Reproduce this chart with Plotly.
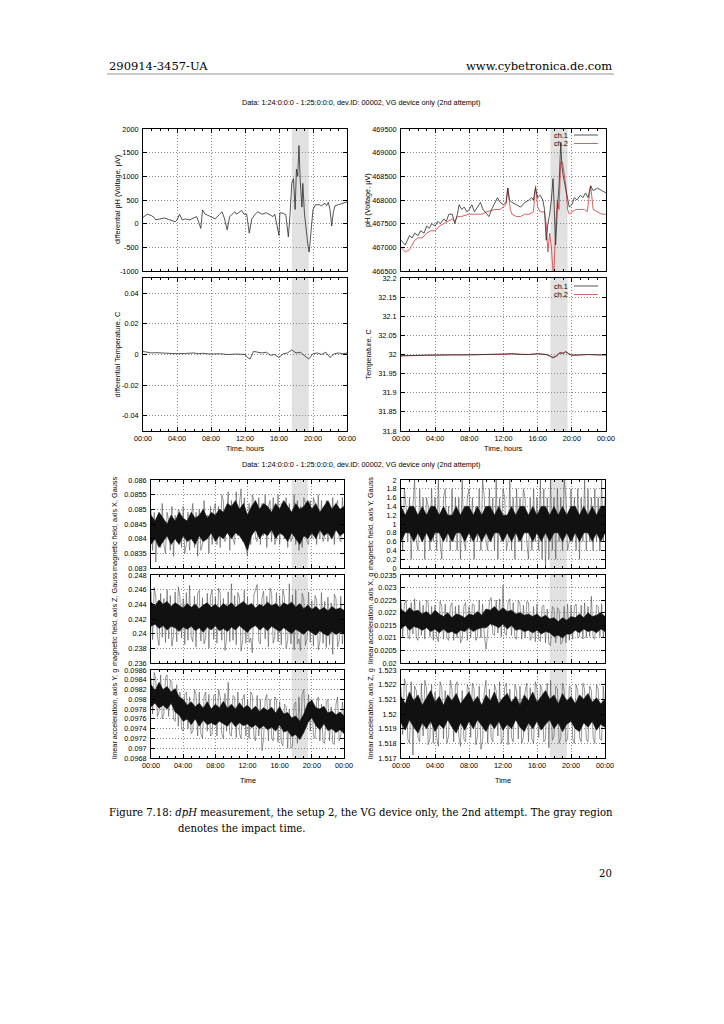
import plotly.graph_objects as go

# ---------------- data ----------------
hour_ticks = [0, 4, 8, 12, 16, 20, 24]
hour_labels = ["00:00", "04:00", "08:00", "12:00", "16:00", "20:00", "00:00"]
impact = [17.5, 19.5]

# differential pH
dph_t = [0,0.5,1.0,1.3,1.5,2.0,2.5,3.0,3.5,3.8,4.0,4.3,4.6,5.0,5.5,6.0,6.3,6.6,6.8,7.0,
         7.3,7.6,8.0,8.5,9.0,9.3,9.6,9.9,10.2,10.5,10.8,11.0,11.3,11.6,11.9,12.2,12.5,12.8,13.2,13.5,
         14.0,14.5,15.0,15.3,15.5,15.8,16.0,16.1,16.5,16.8,17.1,17.3,17.5,17.7,17.9,18.05,18.2,18.35,18.5,18.7,
         18.8,19.0,19.2,19.4,19.55,19.75,20.0,20.3,20.7,21.0,21.4,21.6,21.8,22.0,22.2,22.4,22.6,23.0,23.5,24.0]
dph_v = [130,200,170,130,80,100,120,90,50,40,80,200,80,100,80,120,150,10,-100,290,
         200,180,150,100,200,250,100,-130,150,200,250,200,250,280,200,200,-200,100,200,250,
         200,230,180,150,200,-50,-250,230,220,190,-280,200,850,950,300,1150,1000,1650,900,350,
         850,200,-200,-450,-600,-250,300,400,400,380,430,380,450,300,-50,250,380,400,430,460]

# pH channels
ph1_t = [0,0.3,0.5,1.0,1.3,1.6,2.0,2.3,2.7,3.0,3.3,3.6,4.0,4.3,4.6,5.0,5.3,5.6,6.0,6.3,
         6.6,6.8,7.1,7.4,7.7,8.0,8.3,8.6,9.0,9.3,9.6,10.0,10.3,10.6,11.0,11.3,11.6,12.0,12.3,12.5,
         12.7,13.0,13.5,14.0,14.5,15.0,15.3,15.5,15.75,16.0,16.3,16.6,16.8,17.0,17.2,17.4,17.6,17.8,17.95,18.1,
         18.3,18.5,18.7,18.85,19.0,19.2,19.5,19.7,20.0,20.3,20.6,21.0,21.3,21.6,21.9,22.2,22.5,23.0,23.5,24.0]
ph1_v = [467150,467100,467050,467250,467200,467300,467250,467350,467300,467450,467400,467500,467450,467550,467500,467600,467550,467700,467700,467500,
         467700,467900,467800,467850,467750,467800,467900,467750,467850,467950,467800,467700,467650,467800,467950,468050,467950,467900,467950,468250,
         468000,467950,467900,467850,467950,468000,468050,468000,468250,468050,468100,468000,467800,467150,467500,467700,468000,468450,467800,467050,
         467800,468300,469200,468700,468500,468300,468000,467850,467900,468050,468000,468100,468050,468150,468050,468300,468200,468250,468200,468150]
ph2_t = [0,0.5,1.0,1.3,1.6,2.0,2.5,3.0,3.5,4.0,4.5,5.0,5.5,6.0,6.3,6.6,7.0,8.0,9.0,9.5,
         10.0,11.0,11.6,12.0,12.3,12.5,12.8,13.0,13.5,14.0,14.5,15.0,15.5,15.75,16.0,16.3,16.8,17.0,17.2,17.4,
         17.6,17.8,17.9,18.1,18.3,18.5,18.7,18.9,19.1,19.3,19.5,19.7,20.0,20.5,21.0,21.5,21.8,22.2,22.5,23.0,
         23.5,24.0]
ph2_v = [467000,466900,466950,467050,467150,467200,467200,467300,467350,467350,467450,467500,467550,467600,467550,467650,467650,467700,467700,467700,
         467750,467800,467800,467850,467900,468250,467800,467700,467650,467650,467700,467700,467750,468300,467850,467750,467750,467500,466900,467300,
         467000,466500,466450,467400,468000,467800,468800,468800,468500,468300,467800,467700,467750,467800,467800,467800,467750,468300,467800,467750,
         467700,467700]

# differential temperature
dT_t = [0,0.5,1,1.5,2,3,4,5,6,6.5,7,8,9,10,11,12,12.3,12.6,13,13.5,
        14,14.5,15,15.5,16,16.5,17,17.5,18,18.5,19,19.5,20,20.5,21,21.5,22,22.5,23,23.5,24]
dT_v = [0.002,0.0015,0.001,0.0012,0.001,0.0005,0.0005,0.0007,0.001,0.0005,0.0008,0.0003,0.0005,0.0,0.0003,0.0,-0.002,-0.003,0.002,0.0015,
        0.001,0.0015,-0.0005,0.0,-0.002,0.0005,0.001,0.003,0.001,0.0015,-0.001,-0.003,0.0005,0.001,0.0,0.0015,-0.002,0.0005,0.001,0.0005,0.001]

# temperature channels
T_t = [0,2,4,6,8,10,12,13,14,15,16,16.5,17,17.5,17.8,18.2,18.6,19.0,19.3,19.6,20,21,22,23,24]
T1_v = [31.997,31.998,31.999,31.999,31.999,32.0,32.0,32.002,32.0,32.0,32.002,32.001,32.0,31.995,31.991,
        31.996,32.004,32.003,32.007,32.002,31.998,31.999,32.0,31.999,31.999]
T2_v = [31.996,31.998,31.999,31.999,32.0,32.0,32.0,32.002,32.001,32.0,32.002,32.001,32.0,31.996,31.993,
        31.997,32.005,32.004,32.008,32.003,31.998,31.999,32.0,31.999,31.999]

# ---- sensor series: outlier samples every 0.2 h (spk) and dense core band every 0.5 h (hi / lo)
magX_spk = [0.0850,0.0836,0.0849,0.0832,0.0847,0.0848,0.0837,0.0852,0.0838,0.0835,
            0.0849,0.0846,0.0836,0.0851,0.0834,0.0848,0.0839,0.0850,0.0849,0.0837,
            0.0851,0.0835,0.0838,0.0849,0.0836,0.0847,0.0852,0.0837,0.0849,0.0834,
            0.0850,0.0836,0.0838,0.0853,0.0840,0.0848,0.0835,0.0851,0.0838,0.0850,
            0.0852,0.0838,0.0851,0.0837,0.0855,0.0853,0.0839,0.0850,0.0856,0.0836,
            0.0853,0.0840,0.0838,0.0856,0.0841,0.0852,0.0857,0.0839,0.0854,0.0837,
            0.0834,0.0852,0.0838,0.0855,0.0853,0.0840,0.0839,0.0854,0.0838,0.0852,
            0.0841,0.0855,0.0837,0.0851,0.0853,0.0839,0.0854,0.0838,0.0840,0.0855,
            0.0838,0.0852,0.0851,0.0840,0.0854,0.0837,0.0852,0.0839,0.0841,0.0855,
            0.0838,0.0853,0.0836,0.0851,0.0837,0.0854,0.0852,0.0839,0.0838,0.0853,
            0.0840,0.0854,0.0852,0.0838,0.0855,0.0840,0.0853,0.0839,0.0841,0.0853,
            0.0839,0.0852,0.0840,0.0854,0.0838,0.0851,0.0853,0.0840,0.0839,0.0854,
            0.0846]
magX_hi = [0.0848,0.0846,0.0849,0.0847,0.0845,0.0848,0.0846,0.0849,0.0847,0.0846,
           0.0849,0.0847,0.0848,0.0850,0.0847,0.0849,0.0848,0.0850,0.0849,0.0852,
           0.0851,0.0853,0.0850,0.0852,0.0848,0.0851,0.0853,0.0850,0.0852,0.0851,
           0.0849,0.0852,0.0850,0.0853,0.0851,0.0849,0.0852,0.0850,0.0851,0.0853,
           0.0850,0.0852,0.0849,0.0851,0.0853,0.0850,0.0852,0.0850,0.0851]
magX_lo = [0.0838,0.0840,0.0837,0.0839,0.0841,0.0838,0.0840,0.0838,0.0841,0.0839,
           0.0840,0.0838,0.0841,0.0839,0.0840,0.0842,0.0839,0.0841,0.0840,0.0842,
           0.0840,0.0842,0.0841,0.0839,0.0836,0.0841,0.0843,0.0840,0.0842,0.0841,
           0.0843,0.0840,0.0842,0.0841,0.0839,0.0842,0.0840,0.0838,0.0841,0.0840,
           0.0842,0.0840,0.0843,0.0841,0.0842,0.0840,0.0843,0.0841,0.0842]

magY_spk = [1.6,0.4,1.8,1.4,0.6,1.6,0.2,1.4,2.0,0.6,
            0.4,1.8,0.6,1.6,0.2,1.6,1.4,0.4,1.8,0.6,
            1.6,0.4,2.0,0.6,0.2,1.6,1.8,0.6,1.4,0.4,
            1.8,0.6,1.6,0.4,1.6,0.2,2.0,0.6,0.4,1.6,
            1.8,0.6,1.6,0.2,1.4,0.6,1.8,0.4,2.0,1.6,
            0.6,0.4,1.8,0.6,1.6,0.4,2.0,0.2,1.6,0.6,
            1.8,1.6,0.4,0.6,2.0,0.4,1.6,0.2,1.8,0.6,
            1.6,0.4,1.8,1.6,0.6,0.2,1.6,0.4,1.8,0.6,
            1.6,0.4,2.0,0.2,1.8,0.0,1.6,0.2,2.0,0.4,
            1.6,0.2,1.8,0.6,1.6,0.4,2.0,1.6,0.4,0.6,
            1.8,0.6,1.6,0.4,1.8,0.2,1.6,0.6,2.0,0.4,
            1.8,0.6,1.6,0.4,1.8,0.6,1.6,0.4,2.0,0.6,
            1.6]
magY_hi = [1.4,1.2,1.4,1.4,1.2,1.4,1.2,1.4,1.4,1.2,1.4,1.2,1.2,1.4,1.2,1.4,1.4,1.2,1.4,1.2,
           1.4,1.4,1.2,1.4,1.2,1.2,1.4,1.2,1.4,1.4,1.2,1.4,1.2,1.4,1.4,1.2,1.4,1.2,1.4,1.2,
           1.4,1.4,1.2,1.4,1.2,1.4,1.2,1.4,1.4]
magY_lo = [0.6,0.8,0.8,0.6,0.8,0.6,0.8,0.6,0.8,0.8,0.6,0.8,0.6,0.8,0.8,0.6,0.8,0.6,0.8,0.6,
           0.8,0.6,0.8,0.8,0.6,0.8,0.6,0.8,0.6,0.8,0.8,0.6,0.8,0.6,0.8,0.6,0.8,0.8,0.6,0.8,
           0.6,0.8,0.6,0.8,0.8,0.6,0.8,0.6,0.8]

magZ_spk = [0.2458,0.2392,0.2463,0.2450,0.2396,0.2384,0.2455,0.2395,0.2448,0.2388,
            0.2460,0.2393,0.2452,0.2383,0.2398,0.2457,0.2389,0.2464,0.2451,0.2394,
            0.2448,0.2385,0.2456,0.2391,0.2466,0.2396,0.2389,0.2451,0.2382,0.2455,
            0.2459,0.2390,0.2449,0.2386,0.2394,0.2455,0.2380,0.2451,0.2460,0.2392,
            0.2450,0.2387,0.2462,0.2456,0.2391,0.2448,0.2377,0.2393,0.2457,0.2389,
            0.2468,0.2391,0.2452,0.2385,0.2456,0.2449,0.2376,0.2392,0.2459,0.2387,
            0.2450,0.2388,0.2394,0.2374,0.2453,0.2462,0.2467,0.2390,0.2386,0.2449,
            0.2458,0.2393,0.2451,0.2382,0.2462,0.2455,0.2387,0.2396,0.2456,0.2389,
            0.2452,0.2385,0.2460,0.2449,0.2380,0.2391,0.2468,0.2386,0.2453,0.2378,
            0.2459,0.2386,0.2393,0.2377,0.2455,0.2447,0.2384,0.2392,0.2457,0.2388,
            0.2445,0.2383,0.2452,0.2446,0.2378,0.2390,0.2456,0.2387,0.2444,0.2381,
            0.2450,0.2385,0.2442,0.2372,0.2454,0.2448,0.2382,0.2391,0.2451,0.2386,
            0.2420]
magZ_hi = [0.2443,0.2438,0.2446,0.2440,0.2444,0.2437,0.2442,0.2439,0.2435,0.2441,
           0.2436,0.2440,0.2434,0.2439,0.2442,0.2436,0.2440,0.2435,0.2441,0.2437,
           0.2442,0.2436,0.2440,0.2444,0.2438,0.2441,0.2435,0.2440,0.2437,0.2443,
           0.2438,0.2441,0.2436,0.2442,0.2439,0.2443,0.2436,0.2441,0.2434,0.2439,
           0.2433,0.2437,0.2432,0.2436,0.2431,0.2437,0.2433,0.2435,0.2432]
magZ_lo = [0.2410,0.2413,0.2407,0.2411,0.2405,0.2410,0.2408,0.2403,0.2409,0.2406,
           0.2410,0.2404,0.2408,0.2402,0.2409,0.2405,0.2411,0.2404,0.2407,0.2403,
           0.2409,0.2405,0.2411,0.2406,0.2402,0.2408,0.2411,0.2405,0.2409,0.2404,
           0.2410,0.2406,0.2403,0.2408,0.2404,0.2400,0.2406,0.2402,0.2399,0.2405,
           0.2402,0.2398,0.2404,0.2400,0.2397,0.2403,0.2399,0.2402,0.2400]

accX_spk = [0.02245,0.02105,0.02235,0.02250,0.02110,0.02095,0.02240,0.02115,0.02255,0.02100,
            0.02090,0.02245,0.02110,0.02230,0.02095,0.02250,0.02240,0.02105,0.02225,0.02090,
            0.02230,0.02100,0.02085,0.02245,0.02225,0.02095,0.02235,0.02100,0.02090,0.02225,
            0.02240,0.02090,0.02225,0.02100,0.02230,0.02080,0.02095,0.02225,0.02240,0.02090,
            0.02225,0.02100,0.02235,0.02230,0.02090,0.02105,0.02250,0.02100,0.02235,0.02110,
            0.02055,0.02120,0.02245,0.02260,0.02115,0.02110,0.02250,0.02120,0.02255,0.02105,
            0.02310,0.02120,0.02110,0.02245,0.02255,0.02110,0.02240,0.02100,0.02095,0.02250,
            0.02235,0.02095,0.02230,0.02100,0.02245,0.02240,0.02090,0.02100,0.02225,0.02085,
            0.02235,0.02095,0.02085,0.02225,0.02230,0.02080,0.02215,0.02075,0.02070,0.02225,
            0.02215,0.02080,0.02220,0.02210,0.02075,0.02085,0.02225,0.02080,0.02235,0.02090,
            0.02230,0.02095,0.02225,0.02235,0.02100,0.02105,0.02230,0.02095,0.02240,0.02100,
            0.02225,0.02105,0.02265,0.02100,0.02095,0.02230,0.02225,0.02105,0.02235,0.02100,
            0.02170]
accX_hi = [0.02215,0.02200,0.02220,0.02205,0.02210,0.02195,0.02205,0.02190,0.02210,0.02195,
           0.02185,0.02200,0.02180,0.02195,0.02190,0.02180,0.02195,0.02190,0.02205,0.02190,
           0.02215,0.02210,0.02225,0.02205,0.02220,0.02205,0.02210,0.02195,0.02200,0.02190,
           0.02195,0.02185,0.02195,0.02180,0.02190,0.02175,0.02180,0.02165,0.02180,0.02170,
           0.02185,0.02180,0.02195,0.02180,0.02200,0.02185,0.02190,0.02200,0.02185]
accX_lo = [0.02135,0.02150,0.02130,0.02145,0.02140,0.02130,0.02140,0.02125,0.02135,0.02120,
           0.02135,0.02120,0.02125,0.02115,0.02130,0.02125,0.02140,0.02125,0.02135,0.02140,
           0.02140,0.02155,0.02150,0.02140,0.02155,0.02135,0.02150,0.02130,0.02135,0.02125,
           0.02130,0.02120,0.02130,0.02115,0.02125,0.02120,0.02105,0.02110,0.02100,0.02115,
           0.02115,0.02130,0.02120,0.02135,0.02125,0.02130,0.02120,0.02135,0.02125]

accY_spk = [0.09845,0.09770,0.09855,0.09840,0.09765,0.09775,0.09850,0.09760,0.09770,0.09845,
            0.09850,0.09765,0.09840,0.09835,0.09760,0.09755,0.09830,0.09745,0.09815,0.09740,
            0.09735,0.09810,0.09815,0.09740,0.09805,0.09730,0.09735,0.09820,0.09810,0.09725,
            0.09815,0.09730,0.09720,0.09805,0.09815,0.09735,0.09810,0.09725,0.09730,0.09808,
            0.09810,0.09725,0.09820,0.09805,0.09730,0.09720,0.09812,0.09735,0.09835,0.09728,
            0.09725,0.09808,0.09805,0.09722,0.09815,0.09730,0.09720,0.09800,0.09810,0.09725,
            0.09800,0.09720,0.09815,0.09808,0.09725,0.09715,0.09808,0.09725,0.09800,0.09695,
            0.09720,0.09800,0.09810,0.09715,0.09800,0.09722,0.09715,0.09805,0.09798,0.09712,
            0.09795,0.09712,0.09705,0.09790,0.09785,0.09700,0.09780,0.09700,0.09705,0.09790,
            0.09795,0.09710,0.09805,0.09720,0.09810,0.09820,0.09740,0.09745,0.09810,0.09735,
            0.09800,0.09725,0.09720,0.09795,0.09805,0.09715,0.09790,0.09712,0.09710,0.09795,
            0.09800,0.09715,0.09785,0.09710,0.09708,0.09790,0.09805,0.09715,0.09725,0.09795,
            0.09760]
accY_hi = [0.09830,0.09818,0.09835,0.09820,0.09826,0.09815,0.09822,0.09805,0.09800,0.09788,
           0.09795,0.09785,0.09792,0.09782,0.09795,0.09780,0.09790,0.09783,0.09796,0.09782,
           0.09790,0.09780,0.09793,0.09782,0.09788,0.09778,0.09786,0.09775,0.09783,0.09777,
           0.09784,0.09772,0.09785,0.09770,0.09773,0.09762,0.09766,0.09755,0.09770,0.09792,
           0.09798,0.09783,0.09780,0.09786,0.09772,0.09776,0.09768,0.09774,0.09766]
accY_lo = [0.09785,0.09792,0.09782,0.09788,0.09780,0.09792,0.09774,0.09768,0.09755,0.09760,
           0.09748,0.09760,0.09745,0.09757,0.09748,0.09752,0.09747,0.09755,0.09750,0.09745,
           0.09755,0.09744,0.09752,0.09746,0.09750,0.09742,0.09748,0.09740,0.09746,0.09738,
           0.09743,0.09735,0.09748,0.09733,0.09736,0.09724,0.09728,0.09718,0.09732,0.09752,
           0.09763,0.09746,0.09738,0.09750,0.09736,0.09740,0.09732,0.09738,0.09730]

accZ_spk = [1.5218,1.5186,1.5224,1.5220,1.5183,1.5180,1.5222,1.5172,1.5219,1.5216,
            1.5184,1.5181,1.5221,1.5185,1.5223,1.5218,1.5179,1.5183,1.5220,1.5180,
            1.5215,1.5184,1.5178,1.5222,1.5218,1.5183,1.5216,1.5180,1.5185,1.5223,
            1.5217,1.5181,1.5219,1.5222,1.5185,1.5178,1.5216,1.5183,1.5181,1.5220,
            1.5216,1.5184,1.5221,1.5217,1.5179,1.5185,1.5219,1.5176,1.5182,1.5215,
            1.5223,1.5180,1.5217,1.5184,1.5181,1.5220,1.5216,1.5185,1.5222,1.5180,
            1.5183,1.5218,1.5221,1.5179,1.5217,1.5184,1.5181,1.5220,1.5216,1.5183,
            1.5219,1.5180,1.5184,1.5215,1.5221,1.5181,1.5218,1.5183,1.5180,1.5222,
            1.5217,1.5184,1.5220,1.5216,1.5181,1.5183,1.5221,1.5177,1.5223,1.5182,
            1.5185,1.5219,1.5217,1.5180,1.5184,1.5221,1.5216,1.5181,1.5183,1.5219,
            1.5218,1.5183,1.5180,1.5220,1.5216,1.5184,1.5181,1.5221,1.5217,1.5183,
            1.5181,1.5219,1.5216,1.5184,1.5180,1.5220,1.5217,1.5183,1.5182,1.5219,
            1.5200]
accZ_hi = [1.5212,1.5207,1.5215,1.5209,1.5213,1.5206,1.5211,1.5216,1.5208,1.5212,
           1.5206,1.5213,1.5209,1.5214,1.5207,1.5211,1.5215,1.5208,1.5212,1.5206,
           1.5213,1.5209,1.5215,1.5207,1.5211,1.5214,1.5208,1.5212,1.5206,1.5213,
           1.5209,1.5215,1.5208,1.5212,1.5216,1.5210,1.5213,1.5207,1.5214,1.5209,
           1.5212,1.5207,1.5213,1.5210,1.5214,1.5208,1.5211,1.5207,1.5210]
accZ_lo = [1.5194,1.5189,1.5196,1.5191,1.5187,1.5194,1.5190,1.5195,1.5188,1.5193,
           1.5190,1.5196,1.5191,1.5187,1.5194,1.5189,1.5195,1.5190,1.5196,1.5192,
           1.5188,1.5194,1.5190,1.5195,1.5189,1.5193,1.5190,1.5196,1.5191,1.5188,
           1.5194,1.5190,1.5195,1.5189,1.5193,1.5196,1.5190,1.5194,1.5188,1.5193,
           1.5195,1.5190,1.5188,1.5194,1.5191,1.5195,1.5189,1.5193,1.5191]

# tick values
dph_ticks = [-1000, -500, 0, 500, 1000, 1500, 2000]
ph_ticks = [466500, 467000, 467500, 468000, 468500, 469000, 469500]
dT_ticks = [-0.04, -0.02, 0, 0.02, 0.04]
T_ticks = [31.8, 31.85, 31.9, 31.95, 32, 32.05, 32.1, 32.15, 32.2]
magX_ticks = [0.083, 0.0835, 0.084, 0.0845, 0.085, 0.0855, 0.086]
magY_ticks = [0, 0.2, 0.4, 0.6, 0.8, 1, 1.2, 1.4, 1.6, 1.8, 2]
magZ_ticks = [0.236, 0.238, 0.24, 0.242, 0.244, 0.246, 0.248]
accX_ticks = [0.02, 0.0205, 0.021, 0.0215, 0.022, 0.0225, 0.023, 0.0235]
accY_ticks = [0.0968, 0.097, 0.0972, 0.0974, 0.0976, 0.0978, 0.098, 0.0982, 0.0984, 0.0986]
accZ_ticks = [1.517, 1.518, 1.519, 1.52, 1.521, 1.522, 1.523]

# ---------------- layout helpers ----------------
# the page body has an 8px margin, so the figure is placed at (8, 8) in the window
OFF = 8
W, H = 724 - 2 * OFF, 1024 - 2 * OFF
def PX(px): return (px - OFF) / W
def PY(py): return 1 - (py - OFF) / H

SANS = "Liberation Sans"
SERIF = "DejaVu Serif"
FS = 7.3
GRID = dict(showgrid=True, gridcolor="#8c8c8c", griddash="1px,2px", gridwidth=0.7)

def fmt(v):
    return f"{v:g}"

# panel: (id, x px range, y px range, y range, ticks, show x labels, y title, title x px)
panels = [
    ("", (143, 347), (129, 271), [-1000, 2000], dph_ticks, False, "differential pH (Voltage, μV)", 117),
    ("2", (401, 606), (129, 271), [466500, 469500], ph_ticks, False, "pH (Voltage, μV)", 367),
    ("3", (143, 347), (278, 431), [-0.05, 0.05], dT_ticks, True, "differential Temperature, C", 117),
    ("4", (401, 606), (278, 431), [31.8, 32.2], T_ticks, True, "Temperature, C", 368),
    ("5", (151, 344), (480, 568), [0.083, 0.086], magX_ticks, False, "magnetic field, axis X, Gauss", 114),
    ("6", (401, 605), (480, 568), [0, 2], magY_ticks, False, "magnetic field, axis Y, Gauss", 370),
    ("7", (151, 344), (575, 663), [0.236, 0.248], magZ_ticks, False, "magnetic field, axis Z, Gauss", 114),
    ("8", (401, 605), (575, 663), [0.02, 0.0235], accX_ticks, False, "linear acceleration, axis X, g", 370),
    ("9", (151, 344), (670, 758), [0.0968, 0.0986], accY_ticks, True, "linear acceleration, axis Y, g", 114),
    ("10", (401, 605), (670, 758), [1.517, 1.523], accZ_ticks, True, "linear acceleration, axis Z, g", 370),
]

fig = go.Figure()
layout = dict(
    width=W, height=H, margin=dict(l=0, r=0, t=0, b=0),
    paper_bgcolor="white", plot_bgcolor="white", showlegend=False,
)
annotations = []
shapes = []

tickfont = dict(family=SANS, size=FS, color="black")
for pid, (x0, x1), (y0, y1), yr, yt, xlab, ytitle, tx in panels:
    layout["xaxis" + pid] = dict(
        domain=[PX(x0), PX(x1)], anchor="y" + pid, range=[0, 24],
        tickmode="array", tickvals=hour_ticks, ticktext=hour_labels,
        showticklabels=xlab, ticks="inside", ticklen=4, tickwidth=0.8, tickcolor="black",
        showline=True, linecolor="black", linewidth=0.9, mirror="allticks",
        zeroline=False, **GRID,
        minor=dict(tickmode="array", tickvals=list(range(25)), ticks="inside", ticklen=2,
                   tickwidth=0.8, tickcolor="black", showgrid=False),
        tickfont=tickfont, automargin=False, fixedrange=True,
    )
    layout["yaxis" + pid] = dict(
        domain=[PY(y1), PY(y0)], anchor="x" + pid, range=yr,
        tickmode="array", tickvals=yt, ticktext=[fmt(v) for v in yt],
        ticks="inside", ticklen=4, tickwidth=0.8, tickcolor="black",
        showline=True, linecolor="black", linewidth=0.9, mirror="allticks",
        zeroline=False, **GRID,
        tickfont=tickfont, automargin=False, fixedrange=True, ticklabelstandoff=2,
    )
    annotations.append(dict(
        text=ytitle, x=PX(tx), y=PY((y0 + y1) / 2), xref="paper", yref="paper",
        textangle=-90, showarrow=False, xanchor="center", yanchor="middle",
        font=dict(family=SANS, size=FS, color="black")))
    shapes.append(dict(
        type="rect", xref="x" + pid, yref=("y" + pid) + " domain",
        x0=impact[0], x1=impact[1], y0=0, y1=1,
        fillcolor="#e1e1e1", line=dict(width=0), layer="below"))

def line(x, y, pid, color="black", width=0.8):
    fig.add_trace(go.Scatter(x=x, y=y, mode="lines", xaxis="x" + pid, yaxis="y" + pid,
                             line=dict(color=color, width=width), hoverinfo="skip"))

line(dph_t, dph_v, "", "#2a2a2a", 0.8)
line(ph2_t, ph2_v, "2", "#d03a3a", 0.8)
line(ph1_t, ph1_v, "2", "#2a2a2a", 0.8)
line(dT_t, dT_v, "3", "#2a2a2a", 0.8)
line(T_t, T2_v, "4", "#d03a3a", 0.8)
line(T_t, T1_v, "4", "#2a2a2a", 0.8)

sensors = [(magX_spk, magX_hi, magX_lo, "5"), (magY_spk, magY_hi, magY_lo, "6"),
           (magZ_spk, magZ_hi, magZ_lo, "7"), (accX_spk, accX_hi, accX_lo, "8"),
           (accY_spk, accY_hi, accY_lo, "9"), (accZ_spk, accZ_hi, accZ_lo, "10")]
for spk, hi, lo, pid in sensors:
    n = len(spk)
    ts = [24 * i / (n - 1) for i in range(n)]
    line(ts, spk, pid, "#505050", 0.6)
    m = len(hi)
    tb = [24 * i / (m - 1) for i in range(m)]
    fig.add_trace(go.Scatter(x=tb + tb[::-1], y=hi + lo[::-1], mode="lines",
                             xaxis="x" + pid, yaxis="y" + pid, fill="toself",
                             fillcolor="#111111", line=dict(color="#111111", width=0.6),
                             hoverinfo="skip"))

# legends in the pH / temperature panels
for ypx in (135, 286):
    for k, (lab, col) in enumerate([("ch.1", "#2a2a2a"), ("ch.2", "#d03a3a")]):
        yy = ypx + k * 8.5
        annotations.append(dict(text=lab, x=PX(570), y=PY(yy), xref="paper", yref="paper",
                                showarrow=False, xanchor="right", yanchor="middle",
                                font=dict(family=SANS, size=FS, color="black")))
        shapes.append(dict(type="line", xref="paper", yref="paper",
                           x0=PX(574), x1=PX(598), y0=PY(yy), y1=PY(yy),
                           line=dict(color=col, width=0.8)))

# x titles
for cx, cy, txt in [(245, 448, "Time, hours"), (503, 448, "Time, hours"),
                    (248, 780, "Time"), (503, 780, "Time")]:
    annotations.append(dict(text=txt, x=PX(cx), y=PY(cy), xref="paper", yref="paper",
                            showarrow=False, xanchor="center", yanchor="middle",
                            font=dict(family=SANS, size=FS, color="black")))

chart_title = "Data: 1:24:0:0:0 - 1:25:0:0:0, dev.ID: 00002, VG device only (2nd attempt)"
for cy in (102, 465):
    annotations.append(dict(text=chart_title, x=PX(361), y=PY(cy), xref="paper", yref="paper",
                            showarrow=False, xanchor="center", yanchor="middle",
                            font=dict(family=SANS, size=FS, color="black")))

# page header / caption
page_text = [
    dict(text="290914-3457-UA", x=PX(107), y=PY(66), xanchor="left", yanchor="middle",
         font=dict(family=SERIF, size=11.5, color="black")),
    dict(text="www.cybetronica.de.com", x=PX(614), y=PY(66), xanchor="right", yanchor="middle",
         font=dict(family=SERIF, size=11.5, color="black")),
    dict(text="Figure 7.18: <i>dpH</i> measurement, the setup 2, the VG device only, the 2nd attempt. The gray region",
         x=PX(107), y=PY(812), xanchor="left", yanchor="middle",
         font=dict(family=SERIF, size=10.1, color="black")),
    dict(text="denotes the impact time.", x=PX(176), y=PY(828), xanchor="left", yanchor="middle",
         font=dict(family=SERIF, size=10.1, color="black")),
    dict(text="20", x=PX(614), y=PY(873), xanchor="right", yanchor="middle",
         font=dict(family=SERIF, size=10.1, color="black")),
]
for a in page_text:
    a.update(xref="paper", yref="paper", showarrow=False)
annotations += page_text

shapes.append(dict(type="line", xref="paper", yref="paper", x0=PX(107), x1=PX(614),
                   y0=PY(74), y1=PY(74), line=dict(color="#777777", width=0.8)))

layout["annotations"] = annotations
layout["shapes"] = shapes
fig.update_layout(**layout)
fig.write_html("out.html")
